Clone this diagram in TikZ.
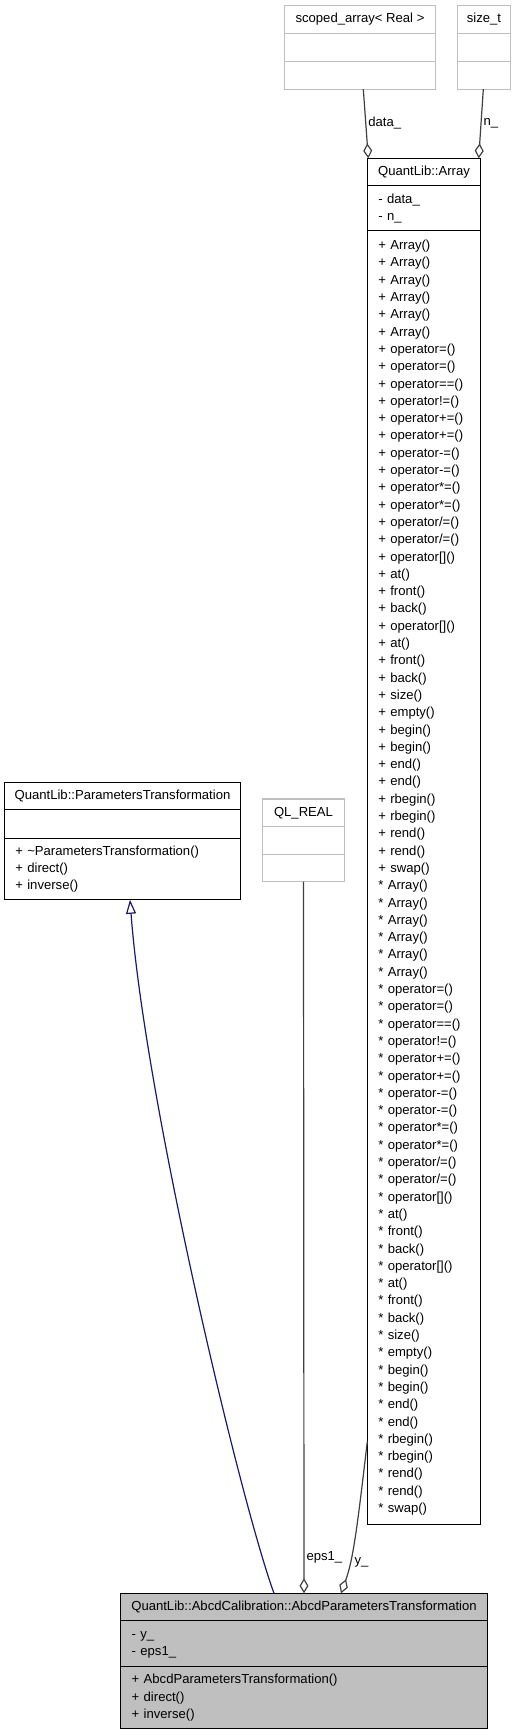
\documentclass[tikz,border=0pt]{standalone}
\usepackage{fontspec}
\setmainfont{Liberation Sans}
\usepackage{tikz}
\usetikzlibrary{arrows.meta,positioning}
\definecolor{edgegray}{HTML}{404040}
\definecolor{boxgray}{HTML}{BFBFBF}
\definecolor{inhblue}{HTML}{191970}
\newcommand\umlfont{\fontsize{13.1}{17.3}\selectfont}
\newcommand\arrayops[1]{%
{#1} Array()\\{#1} Array()\\{#1} Array()\\{#1} Array()\\{#1} Array()\\{#1} Array()\\%
{#1} operator=()\\{#1} operator=()\\{#1} operator==()\\{#1} operator!=()\\%
{#1} operator+=()\\{#1} operator+=()\\{#1} operator-=()\\{#1} operator-=()\\%
{#1} operator*=()\\{#1} operator*=()\\{#1} operator/=()\\{#1} operator/=()\\%
{#1} operator[]()\\{#1} at()\\{#1} front()\\{#1} back()\\%
{#1} operator[]()\\{#1} at()\\{#1} front()\\{#1} back()\\%
{#1} size()\\{#1} empty()\\{#1} begin()\\{#1} begin()\\{#1} end()\\{#1} end()\\%
{#1} rbegin()\\{#1} rbegin()\\{#1} rend()\\{#1} rend()\\{#1} swap()}
\tikzset{
  classname/.style={
    draw=black,
    line width=1.1pt,
    outer sep=0pt,
    inner sep=0pt,
    minimum height=27.5pt,
    anchor=north west,
    font=\umlfont,
    execute at begin node=\strut,
    execute at end node=\strut
  },
  members/.style={
    draw=black,
    line width=1.1pt,
    outer sep=0pt,
    inner xsep=11pt,
    inner ysep=0pt,
    align=left,
    font=\umlfont,
    execute at begin node=\strut,
    execute at end node=\strut
  },
  extclass/.style={draw=boxgray},
  selfclass/.style={fill=boxgray},
  aggarrow/.style={
    -{Diamond[open,length=15pt,width=9pt]},
    draw=edgegray,
    line width=1.2pt
  },
  inharrow/.style={
    -{Triangle[open,length=14pt,width=10pt]},
    draw=inhblue,
    line width=1.2pt
  },
  edgelabel/.style={font=\umlfont, inner sep=2pt, text=black}
}

\begin{document}
\begin{tikzpicture}[x=1pt, y=-1pt]
  \useasboundingbox (0,0) rectangle (520,1736);
  % used types
  \node[classname, extclass, minimum width=151.4pt] (sa_head) at (284.3,5.7) {scoped\_array< Real >};
  \node[members, extclass, text width=129.4pt, minimum height=28.4pt, below=0pt of sa_head] (sa_attr) {};
  \node[members, extclass, text width=129.4pt, minimum height=27.6pt, below=0pt of sa_attr] (sa_ops) {};
  \node[classname, extclass, minimum width=52.6pt] (st_head) at (457.7,5.7) {size\_t};
  \node[members, extclass, text width=30.6pt, minimum height=28.4pt, below=0pt of st_head] (st_attr) {};
  \node[members, extclass, text width=30.6pt, minimum height=27.6pt, below=0pt of st_attr] (st_ops) {};
  \node[classname, extclass, minimum width=81.6pt] (ql_head) at (262.7,799) {QL\_REAL};
  \node[members, extclass, text width=59.6pt, minimum height=28pt, below=0pt of ql_head] (ql_attr) {};
  \node[members, extclass, text width=59.6pt, minimum height=27.2pt, below=0pt of ql_attr] (ql_ops) {};
  % QuantLib::Array
  \node[classname, minimum width=113.4pt] (arr_head) at (367.3,158.3) {QuantLib::Array};
  \node[members, text width=91.4pt, minimum height=45pt, below=0pt of arr_head] (arr_attr) {- data\_\\- n\_};
  \node[members, text width=91.4pt, minimum height=1293.6pt, below=0pt of arr_attr] (arr_ops) {\arrayops{+}\\\arrayops{*}};
  % base class
  \node[classname, minimum width=236.4pt] (pt_head) at (4.3,782.3) {QuantLib::ParametersTransformation};
  \node[members, text width=214.4pt, minimum height=28.3pt, below=0pt of pt_head] (pt_attr) {};
  \node[members, text width=214.4pt, minimum height=61.7pt, below=0pt of pt_attr] (pt_ops) {+ \textasciitilde ParametersTransformation()\\+ direct()\\+ inverse()};
  % documented class
  \node[classname, selfclass, minimum width=366.6pt] (ab_head) at (120.7,1593.3) {QuantLib::AbcdCalibration::AbcdParametersTransformation};
  \node[members, selfclass, text width=344.6pt, minimum height=46pt, below=0pt of ab_head] (ab_attr) {- y\_\\- eps1\_};
  \node[members, selfclass, text width=344.6pt, minimum height=62pt, below=0pt of ab_attr] (ab_ops) {+ AbcdParametersTransformation()\\+ direct()\\+ inverse()};
  % connectors
  \draw[aggarrow] ([xshift=3.3pt]sa_ops.south) -- ([xshift=1pt]arr_head.north west) node[edgelabel, right, pos=0.49] {data\_};
  \draw[aggarrow] ([xshift=-0.7pt]st_ops.south) -- ([xshift=-2pt]arr_head.north east) node[edgelabel, right, pos=0.49] {n\_};
  \draw[aggarrow] (ql_ops.south) -- (ab_head.north) node[edgelabel, right, pos=0.95] {eps1\_};
  \draw[aggarrow] ([yshift=83pt]arr_ops.south west) .. controls (357,1530) and (353,1560) .. ([xshift=37pt]ab_head.north) node[edgelabel, right, pos=0.7, inner sep=4pt] {y\_};
  \draw[inharrow] ([xshift=-30pt]ab_head.north) .. controls (240,1500) and (145,1100) .. ([xshift=7.5pt]pt_ops.south);
\end{tikzpicture}
\end{document}
